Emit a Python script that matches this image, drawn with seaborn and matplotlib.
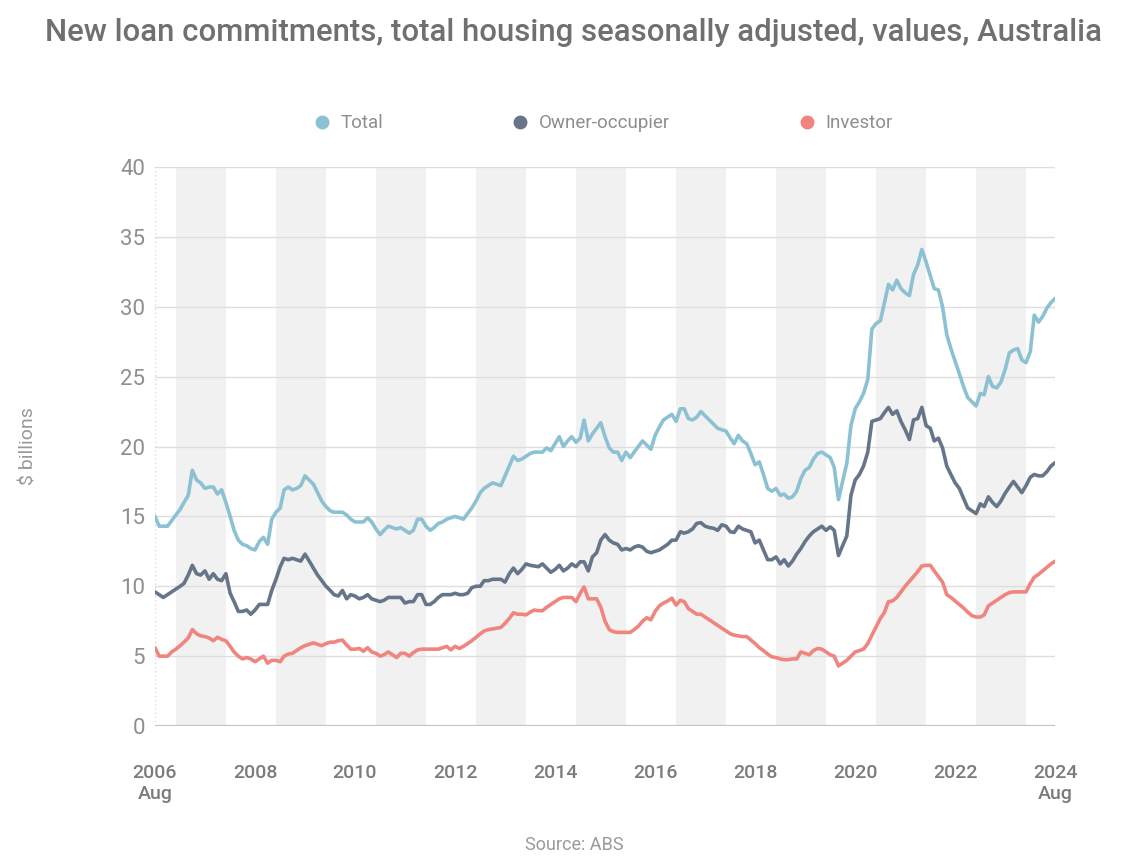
import matplotlib
matplotlib.use("Agg")
import matplotlib.pyplot as plt
from matplotlib.lines import Line2D
import seaborn as sns
import pandas as pd

# Monthly values, Aug 2006 to Aug 2024 ($ billions)
months = pd.date_range("2006-08-01", "2024-08-01", freq="MS")

total = [
    15.0, 14.3, 14.3, 14.3, 14.7, 15.1, 15.5, 16.0, 16.5, 18.3, 17.6, 17.4,
    17.0, 17.1, 17.1, 16.6, 16.9, 16.0, 15.0, 14.0, 13.3, 13.0, 12.9, 12.7,
    12.6, 13.2, 13.5, 13.0, 14.8, 15.3, 15.6, 16.9, 17.1, 16.9, 17.0, 17.2,
    17.9, 17.6, 17.3, 16.7, 16.1, 15.7, 15.4, 15.3, 15.3, 15.3, 15.1, 14.8,
    14.6, 14.6, 14.6, 14.9, 14.6, 14.1, 13.7, 14.0, 14.3, 14.2, 14.1, 14.2,
    14.0, 13.8, 14.0, 14.8, 14.8, 14.3, 14.0, 14.2, 14.5, 14.6, 14.8, 14.9,
    15.0, 14.9, 14.8, 15.2, 15.6, 16.1, 16.7, 17.0, 17.2, 17.4, 17.3, 17.2,
    17.9, 18.6, 19.3, 19.0, 19.1, 19.3, 19.5, 19.6, 19.6, 19.6, 19.9, 19.7,
    20.2, 20.7, 20.0, 20.4, 20.7, 20.3, 20.6, 21.9, 20.4, 20.9, 21.3, 21.7,
    20.7, 19.9, 19.6, 19.6, 19.0, 19.6, 19.2, 19.6, 20.0, 20.4, 20.1, 19.8,
    20.8, 21.4, 21.9, 22.1, 22.3, 21.8, 22.7, 22.7, 22.0, 21.9, 22.1, 22.5,
    22.2, 21.9, 21.6, 21.3, 21.2, 21.1, 20.6, 20.2, 20.8, 20.4, 20.2, 19.5,
    18.7, 18.9, 18.0, 17.0, 16.8, 17.0, 16.5, 16.6, 16.3, 16.4, 16.8, 17.7,
    18.3, 18.5, 19.1, 19.5, 19.6, 19.4, 19.2, 18.5, 16.2, 17.5, 18.8, 21.5,
    22.7, 23.2, 23.8, 24.8, 28.4, 28.8, 29.0, 30.2, 31.6, 31.2, 31.9, 31.3,
    31.0, 30.8, 32.3, 33.0, 34.1, 33.2, 32.2, 31.3, 31.2, 30.0, 28.0, 27.0,
    26.1, 25.2, 24.3, 23.5, 23.2, 22.9, 23.8, 23.7, 25.0, 24.3, 24.2, 24.6,
    25.5, 26.7, 26.9, 27.0, 26.2, 26.0, 26.8, 29.4, 28.9, 29.3, 29.9, 30.3,
    30.6,
]

owner_occupier = [
    9.6, 9.4, 9.2, 9.4, 9.6, 9.8, 10.0, 10.2, 10.8, 11.5, 10.9, 10.8,
    11.1, 10.5, 10.9, 10.5, 10.4, 10.9, 9.5, 8.9, 8.2, 8.2, 8.3, 8.0,
    8.3, 8.7, 8.7, 8.7, 9.7, 10.5, 11.4, 12.0, 11.9, 12.0, 11.9, 11.8,
    12.3, 11.8, 11.3, 10.8, 10.4, 10.0, 9.7, 9.4, 9.3, 9.7, 9.1, 9.4,
    9.3, 9.1, 9.2, 9.4, 9.1, 9.0, 8.9, 9.0, 9.2, 9.2, 9.2, 9.2,
    8.8, 8.9, 8.9, 9.4, 9.4, 8.7, 8.7, 8.9, 9.2, 9.4, 9.4, 9.4,
    9.5, 9.4, 9.4, 9.5, 9.9, 10.0, 10.0, 10.4, 10.4, 10.5, 10.5, 10.5,
    10.3, 10.9, 11.3, 10.9, 11.2, 11.6, 11.5, 11.45, 11.4, 11.6, 11.3, 11.0,
    11.2, 11.5, 11.1, 11.3, 11.6, 11.4, 11.75, 11.75, 11.1, 12.1, 12.4, 13.3,
    13.7, 13.3, 13.1, 13.0, 12.6, 12.7, 12.6, 12.8, 12.9, 12.8, 12.5, 12.4,
    12.5, 12.6, 12.8, 13.0, 13.3, 13.3, 13.9, 13.8, 13.9, 14.1, 14.5, 14.55,
    14.3, 14.2, 14.15, 14.0, 14.4, 14.3, 13.9, 13.85, 14.3, 14.1, 14.0, 13.9,
    13.1, 13.3, 12.6, 11.9, 11.9, 12.1, 11.6, 11.9, 11.45, 11.8, 12.3, 12.7,
    13.2, 13.6, 13.9, 14.1, 14.3, 14.0, 14.25, 14.0, 12.2, 12.9, 13.6, 16.5,
    17.6, 18.0, 18.6, 19.6, 21.8, 21.9, 22.0, 22.4, 22.8, 22.3, 22.55, 21.8,
    21.2, 20.5, 21.9, 22.0, 22.8, 21.5, 21.3, 20.4, 20.6, 19.9, 18.6, 18.0,
    17.4, 17.0, 16.3, 15.6, 15.4, 15.2, 15.9, 15.7, 16.4, 16.0, 15.7, 16.1,
    16.65, 17.1, 17.5, 17.1, 16.7, 17.2, 17.8, 18.0, 17.9, 17.9, 18.2, 18.6,
    18.85,
]

investor = [
    5.6, 5.0, 5.0, 5.0, 5.3, 5.5, 5.75, 6.0, 6.3, 6.9, 6.6, 6.45,
    6.4, 6.3, 6.1, 6.35, 6.2, 6.1, 5.7, 5.3, 5.0, 4.8, 4.9, 4.8,
    4.6, 4.8, 5.0, 4.5, 4.7, 4.7, 4.6, 5.0, 5.15, 5.2, 5.4, 5.6,
    5.75, 5.85, 5.95, 5.85, 5.75, 5.9, 6.0, 6.0, 6.1, 6.15, 5.8, 5.5,
    5.5, 5.55, 5.35, 5.6, 5.3, 5.2, 5.0, 5.1, 5.3, 5.1, 4.9, 5.2,
    5.2, 5.0, 5.25, 5.45, 5.5, 5.5, 5.5, 5.5, 5.5, 5.6, 5.7, 5.45,
    5.7, 5.55, 5.7, 5.9, 6.1, 6.35, 6.6, 6.8, 6.9, 6.95, 7.0, 7.05,
    7.35, 7.7, 8.1, 8.0, 8.0, 7.95, 8.15, 8.3, 8.25, 8.25, 8.5, 8.7,
    8.9, 9.1, 9.2, 9.2, 9.2, 8.9, 9.5, 9.95, 9.1, 9.1, 9.1, 8.5,
    7.5, 6.9, 6.75, 6.7, 6.7, 6.7, 6.7, 6.9, 7.15, 7.5, 7.75, 7.6,
    8.2, 8.6, 8.8, 8.95, 9.15, 8.65, 9.0, 8.9, 8.4, 8.2, 8.0, 8.0,
    7.8, 7.6, 7.4, 7.2, 7.0, 6.8, 6.6, 6.5, 6.45, 6.4, 6.4, 6.15,
    5.9, 5.6, 5.4, 5.15, 4.95, 4.9, 4.8, 4.75, 4.75, 4.8, 4.8, 5.3,
    5.2, 5.1, 5.4, 5.55, 5.5, 5.3, 5.1, 5.0, 4.3, 4.5, 4.7, 5.0,
    5.3, 5.4, 5.5, 5.9, 6.5, 7.1, 7.7, 8.1, 8.9, 8.95, 9.2, 9.6,
    10.0, 10.35, 10.7, 11.05, 11.45, 11.5, 11.5, 11.1, 10.7, 10.3, 9.4, 9.2,
    8.95, 8.7, 8.45, 8.15, 7.9, 7.8, 7.8, 7.95, 8.6, 8.8, 9.0, 9.2,
    9.4, 9.55, 9.6, 9.6, 9.6, 9.6, 10.2, 10.65, 10.85, 11.1, 11.35, 11.6,
    11.8,
]

series_names = ["Total", "Owner-occupier", "Investor"]
colours = ["#8cc1d4", "#66758a", "#f0857f"]

tick_years = list(range(2006, 2025, 2))
tick_labels = ["2006\nAug"] + [str(y) for y in tick_years[1:-1]] + ["2024\nAug"]

# long format for seaborn
df = pd.DataFrame({
    "month": list(months) * 3,
    "value": total + owner_occupier + investor,
    "series": [n for n in series_names for _ in months],
})

sns.set_theme(style="white")
plt.rcParams["font.family"] = ["Roboto", "DejaVu Sans"]

fig = plt.figure(figsize=(11.31, 8.67), dpi=100)
ax = fig.add_axes([0.137, 0.1626, 0.796, 0.6448])

# alternating shaded years
for yr in range(2007, 2024, 2):
    ax.axvspan(pd.Timestamp(f"{yr}-01-01"), pd.Timestamp(f"{yr + 1}-01-01"),
               color="#f1f1f1", lw=0, zorder=0)

sns.lineplot(data=df, x="month", y="value", hue="series",
             palette=dict(zip(series_names, colours)), hue_order=series_names,
             linewidth=2.6, legend=False, ax=ax, zorder=3)

ax.set_xlim(months[0], months[-1])
ax.set_ylim(0, 40)
ax.set_yticks(range(0, 41, 5))
ax.yaxis.grid(True, color="#dedede", lw=1)
ax.set_axisbelow(True)
ax.axhline(0, color="#c4c4c4", lw=1.6, zorder=2)
for edge in (months[0], months[-1]):
    ax.axvline(edge, color="#d6d6d6", lw=1, ls=(0, (1, 2)), zorder=1)
for s in ax.spines.values():
    s.set_visible(False)

ax.set_xticks([pd.Timestamp(f"{y}-08-01") for y in tick_years])
ax.set_xticklabels(tick_labels, fontsize=14, color="#7b7b7b",
                   fontweight="medium", linespacing=1.25)
ax.tick_params(axis="x", length=0, pad=27)
ax.tick_params(axis="y", length=0, pad=7, labelsize=16, labelcolor="#8e8e8e")
ax.set_xlabel("")
ax.set_ylabel("")

fig.text(0.0248, 0.4856, "$ billions", rotation=90, ha="center", va="center",
         fontsize=14, color="#999999")

fig.text(0.5075, 0.962, "New loan commitments, total housing seasonally adjusted, values, Australia",
         ha="center", va="center", fontsize=22.4, fontweight="medium", color="#707070")

handles = [Line2D([], [], ls="none", marker="o", markersize=9,
                  markerfacecolor=c, markeredgecolor=c) for c in colours]
fig.legend(handles, series_names, loc="center", bbox_to_anchor=(0.533, 0.858),
           ncol=3, frameon=False, fontsize=13.5, labelcolor="#8e8e8e",
           handlelength=1, handletextpad=0.5, columnspacing=6.8)

fig.text(0.5075, 0.0254, "Source: ABS", ha="center", va="center",
         fontsize=13, color="#9a9a9a")

fig.savefig("out.png", dpi=100)
